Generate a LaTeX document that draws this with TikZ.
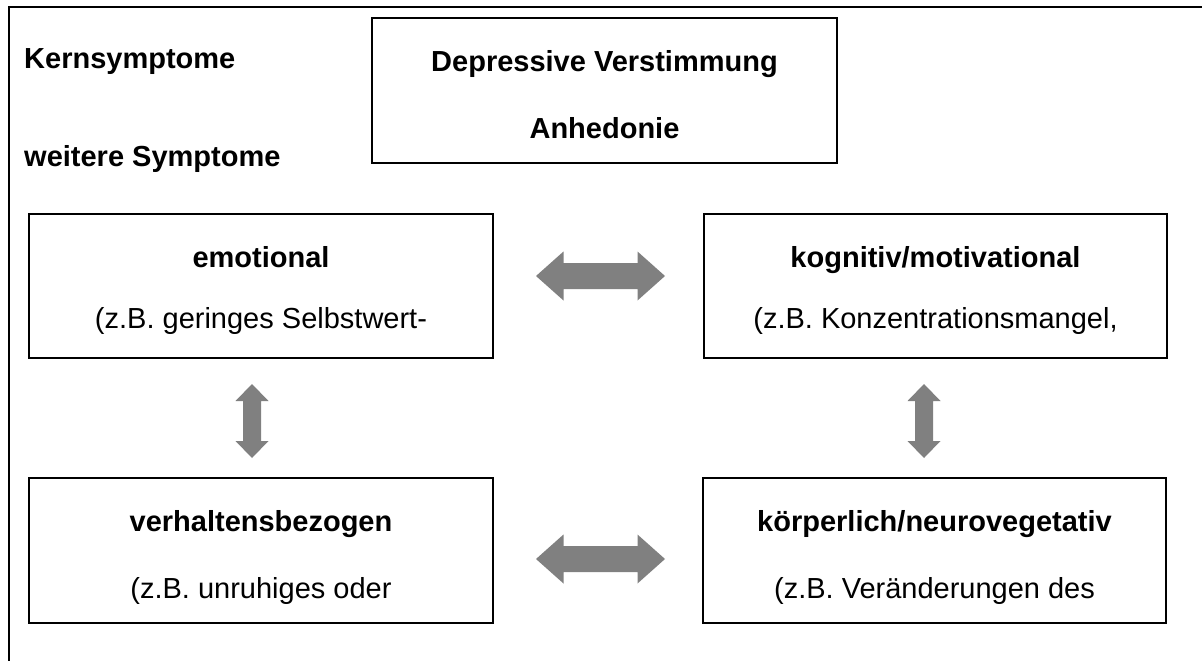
\documentclass[tikz,border=0pt]{standalone}
\usepackage{fontspec}
\setmainfont{Liberation Sans}
\usetikzlibrary{calc}
\definecolor{arrgray}{HTML}{808080}
\newcommand\hdarr[1]{\fill[arrgray, shift={(#1)}] (-64.5,0) -- (-37,-24.5) -- (-37,-13) -- (37,-13) -- (37,-24.5) -- (64.5,0) -- (37,24.5) -- (37,13) -- (-37,13) -- (-37,24.5) -- cycle;}
\newcommand\vdarr[1]{\fill[arrgray, shift={(#1)}] (0,-37) -- (16.5,-20) -- (9,-20) -- (9,20) -- (16.5,20) -- (0,37) -- (-16.5,20) -- (-9,20) -- (-9,-20) -- (-16.5,-20) -- cycle;}
\begin{document}
\begin{tikzpicture}[x=1pt,y=-1pt,
  box/.style={draw=black, line width=1.4pt, inner sep=0pt, outer sep=0pt, anchor=north west},
  title/.style={font=\bfseries\fontsize{29}{34}\selectfont, inner sep=0pt, anchor=base},
  sub/.style={font=\fontsize{29}{34}\selectfont, inner sep=0pt, anchor=base},
  label/.style={font=\bfseries\fontsize{29}{34}\selectfont, inner sep=0pt, anchor=base west}]
\useasboundingbox[fill=white] (0,0) rectangle (1202,661);
% outer frame (open to the right and bottom)
\draw[line width=2pt] (9,661) -- (9,7) -- (1202,7);
% labels
\node[label] (kern) at (24,68) {Kernsymptome};
\node[label] (weit) at (24,166) {weitere Symptome};
% boxes
\node[box, minimum width=465pt, minimum height=145pt] (core) at (372,18) {};
\node[box, minimum width=464pt, minimum height=144pt] (emo) at (29,214) {};
\node[box, minimum width=463pt, minimum height=144pt] (kog) at (704,214) {};
\node[box, minimum width=464pt, minimum height=145pt] (verh) at (29,478) {};
\node[box, minimum width=463pt, minimum height=145pt] (koerp) at (703,478) {};
% texts
\node[title] (coreA) at ($(core.north)+(0,54)$) {Depressive Verstimmung};
\node[title] (coreB) at ($(core.north)+(0,120)$) {Anhedonie};
\node[title] (emoT) at ($(emo.north)+(0,53)$) {emotional};
\node[sub] (emoS) at ($(emo.north)+(0,114)$) {(z.B. geringes Selbstwert-};
\node[title] (kogT) at ($(kog.north)+(0,53)$) {kognitiv/motivational};
\node[sub] (kogS) at ($(kog.north)+(0,114)$) {(z.B. Konzentrationsmangel,};
\node[title] (verhT) at ($(verh.north)+(0,53)$) {verhaltensbezogen};
\node[sub] (verhS) at ($(verh.north)+(0,120)$) {(z.B. unruhiges oder};
\node[title] (koerpT) at ($(koerp.north)+(0,53)$) {körperlich/neurovegetativ};
\node[sub] (koerpS) at ($(koerp.north)+(0,120)$) {(z.B. Veränderungen des};
% connectors (block double arrows)
\coordinate (a1) at ($(emo.east)!0.5!(kog.west)+(2,-10)$);
\coordinate (a2) at ($(verh.east)!0.5!(koerp.west)+(2.5,8.5)$);
\coordinate (a3) at ($(emo.south)!0.5!(verh.north)+(-9,3)$);
\coordinate (a4) at ($(kog.south)!0.5!(koerp.north)+(-11,3)$);
\hdarr{a1}
\hdarr{a2}
\vdarr{a3}
\vdarr{a4}
\end{tikzpicture}
\end{document}
